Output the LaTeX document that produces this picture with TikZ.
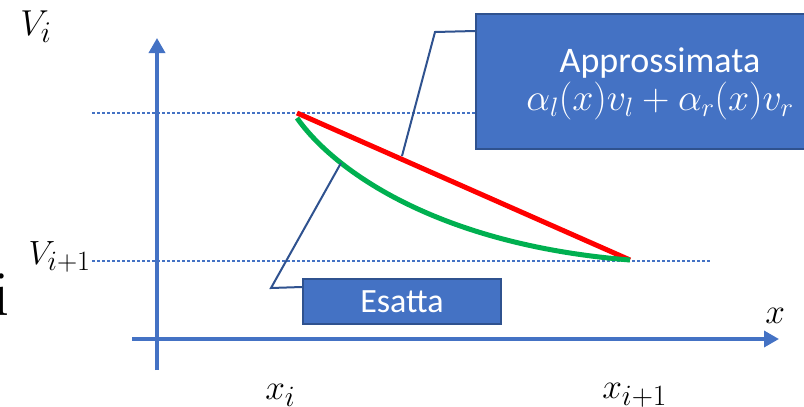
\RequirePackage{fix-cm}
\documentclass[tikz,border=0pt]{standalone}
\usepackage{graphicx}
\usepackage{fontspec}
\newfontfamily\calib{Carlito}
\usetikzlibrary{arrows.meta}
\definecolor{axisblue}{HTML}{4472C4}
\definecolor{edgeblue}{HTML}{2F528F}
\definecolor{exgreen}{HTML}{00B050}
\tikzset{
  axis/.style={axisblue,line width=3.5pt,-{Triangle[length=15pt,width=16pt]}},
  guide/.style={axisblue,line width=1.2pt,dash pattern=on 3pt off 2pt},
  callbox/.style={draw=edgeblue,line width=2pt,fill=axisblue,text=white,align=center,inner sep=0pt},
  callline/.style={edgeblue,line width=2pt},
  lab/.style={inner sep=0pt,font=\fontsize{24.88}{30}\selectfont}
}

\begin{document}
\begin{tikzpicture}[x=1pt,y=-1pt]
\useasboundingbox (0,0) rectangle (804,407);
% axes and guides
\coordinate (xa0) at (132,339);
\coordinate (xa1) at (779,339);
\coordinate (ya0) at (157,370);
\coordinate (ya1) at (157,38);
\coordinate (g0) at (92,113);
\coordinate (g1) at (700,113);
\coordinate (g2) at (92,261);
\coordinate (g3) at (711,261);
\draw[guide] (g0) -- (g1);
\draw[guide] (g2) -- (g3);
\draw[axis] (xa0) -- (xa1);
\draw[axis] (ya0) -- (ya1);
% labels
\node[lab,scale=1.45,anchor=base west] (vi) at (20,35) {$V_i$};
\node[lab,scale=1.35,anchor=base east] (vii) at (91,264) {$V_{i+1}$};
\node[lab,scale=2.6,anchor=base east] (ii) at (10,315) {i};
\node[lab,scale=1.42,anchor=base west] (xi) at (265,399) {$x_i$};
\node[lab,scale=1.42,anchor=base west] (xii) at (602,398) {$x_{i+1}$};
\node[lab,scale=1.42,anchor=base west] (xx) at (765,323) {$x$};
% curves
\coordinate (p0) at (297,113);
\coordinate (p1) at (630,260);
\coordinate (q0) at (297,118);
\draw[red,line width=5pt] (p0) -- (p1);
\draw[exgreen,line width=5pt] (q0) .. controls (335,172) and (440,245) .. (p1);
% callouts
\node[callbox,minimum width=368pt,minimum height=135pt] (appr) at (660,81.5)
  {{\fontsize{36}{41}\selectfont\calib\rule{0pt}{30pt}Approssimata}\\[3pt]%
   {\fontsize{38}{41}\selectfont$\alpha_l(x)v_l+\alpha_r(x)v_r$}};
\node[callbox,minimum width=198pt,minimum height=45pt] (esat) at (402,301.5)
  {\fontsize{34}{40}\selectfont\calib Esatta};
\coordinate (c0) at (435,32);
\coordinate (c1) at (402,156);
\coordinate (c2) at (271,288);
\coordinate (c3) at (341,163);
\draw[callline] ([yshift=-18pt]appr.north west) -- (c0) -- (c1);
\draw[callline] ([yshift=-9pt]esat.north west) -- (c2) -- (c3);
\end{tikzpicture}
\end{document}
